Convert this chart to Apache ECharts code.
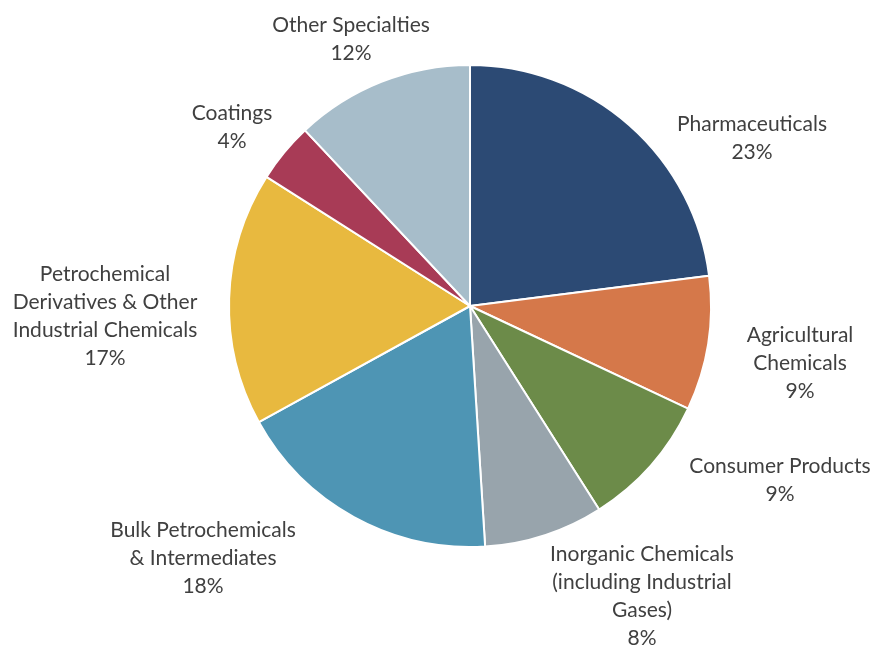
<!DOCTYPE html>
<html>
<head>
<meta charset="utf-8">
<script src="https://cdn.jsdelivr.net/npm/echarts@6/dist/echarts.min.js"></script>
<style>html,body{margin:0;padding:0;background:#fff;}#c{width:874px;height:646px;}</style>
</head>
<body>
<div id="c"></div>
<script>
const categories = ["Pharmaceuticals","Agricultural Chemicals","Consumer Products","Inorganic Chemicals (including Industrial Gases)","Bulk Petrochemicals & Intermediates","Petrochemical Derivatives & Other Industrial Chemicals","Coatings","Other Specialties"];
const labelText = ["Pharmaceuticals","Agricultural\nChemicals","Consumer Products","Inorganic Chemicals\n(including Industrial\nGases)","Bulk Petrochemicals\n& Intermediates","Petrochemical\nDerivatives & Other\nIndustrial Chemicals","Coatings","Other Specialties"];
const values = [23, 9, 9, 8, 18, 17, 4, 12];
const colors = ["#2c4a74","#d5784a","#6c8b49","#98a4ac","#4e95b4","#e8b93f","#a83b56","#a7bdca"];
// label centres (layout only)
const labelPos = [[752,138],[800,363],[780,480],[642,596],[203,558],[105,316],[232,127],[351,39]];

const chart = echarts.init(document.getElementById('c'), null, {renderer:'canvas'});
chart.setOption({
  animation:false,
  backgroundColor:'#ffffff',
  series:[{
    type:'pie',
    center:[470,306],
    radius:[0,241],
    startAngle:90,
    clockwise:true,
    avoidLabelOverlap:false,
    data: categories.map((c,i)=>({name:c, value:values[i], itemStyle:{color:colors[i]}})),
    itemStyle:{borderColor:'#ffffff', borderWidth:2},
    label:{
      show:true,
      position:'outside',
      overflow:'none',
      edgeDistance:0,
      formatter:(p)=> labelText[p.dataIndex] + '\n' + Math.round(p.percent) + '%',
      fontFamily:'Lato, "Open Sans", sans-serif',
      fontSize:21,
      lineHeight:28,
      color:'#404040',
      align:'center'
    },
    labelLine:{show:false},
    labelLayout:(p)=>({x:labelPos[p.dataIndex][0], y:labelPos[p.dataIndex][1], align:'center', verticalAlign:'middle'}),
    emphasis:{disabled:true}
  }]
});
</script>
</body>
</html>
